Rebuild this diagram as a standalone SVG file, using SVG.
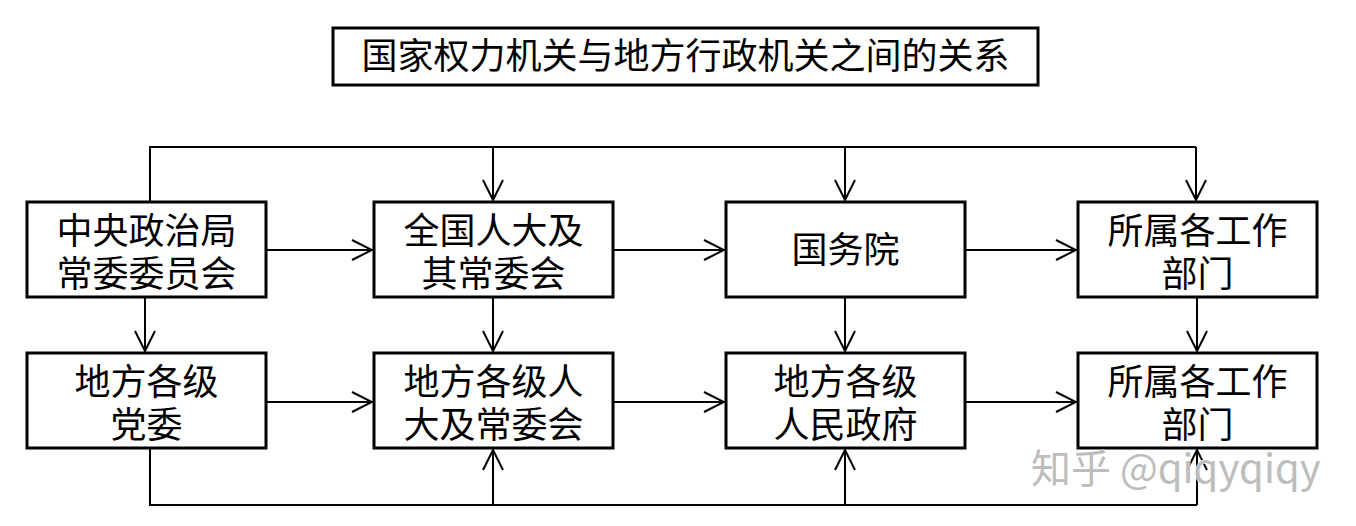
<svg xmlns="http://www.w3.org/2000/svg" width="1356" height="526" viewBox="0 0 1356 526">
<style>
.box{fill:#fff;stroke:#000;stroke-width:3}
.t{font-family:"Noto Sans CJK SC","Noto Sans",sans-serif;font-size:36px;fill:#000;text-anchor:middle}
.c{fill:none;stroke:#000;stroke-width:2}
.wm{font-family:"Noto Sans CJK SC","Noto Sans",sans-serif;font-size:40px;fill:#bdbdbd;stroke:#fff;stroke-width:0.8;paint-order:stroke}
</style>
<defs>
<marker id="a" markerUnits="userSpaceOnUse" markerWidth="24" markerHeight="24" viewBox="-22 -12 24 24" refX="0" refY="0" orient="auto">
<path d="M-20,-10 L0,0 L-20,10" fill="none" stroke="#000" stroke-width="2"/>
</marker>
</defs>
<rect width="1356" height="526" fill="#fff"/>
<g id="title">
<rect class="box" x="333" y="28" width="705" height="57"/>
<text class="t" x="685.5" y="69">国家权力机关与地方行政机关之间的关系</text>
</g>
<g id="connectors">
<polyline class="c" points="150,202 150,147 1196,147"/>
<line class="c" x1="493" y1="147" x2="493" y2="200" marker-end="url(#a)"/>
<line class="c" x1="845" y1="147" x2="845" y2="200" marker-end="url(#a)"/>
<line class="c" x1="1196" y1="147" x2="1196" y2="200" marker-end="url(#a)"/>
<line class="c" x1="266" y1="250" x2="372" y2="250" marker-end="url(#a)"/>
<line class="c" x1="613" y1="250" x2="724" y2="250" marker-end="url(#a)"/>
<line class="c" x1="965" y1="250" x2="1076" y2="250" marker-end="url(#a)"/>
<line class="c" x1="266" y1="402" x2="372" y2="402" marker-end="url(#a)"/>
<line class="c" x1="613" y1="402" x2="724" y2="402" marker-end="url(#a)"/>
<line class="c" x1="965" y1="402" x2="1076" y2="402" marker-end="url(#a)"/>
<line class="c" x1="145" y1="297" x2="145" y2="351" marker-end="url(#a)"/>
<line class="c" x1="493" y1="297" x2="493" y2="351" marker-end="url(#a)"/>
<line class="c" x1="845" y1="297" x2="845" y2="351" marker-end="url(#a)"/>
<line class="c" x1="1197" y1="297" x2="1197" y2="351" marker-end="url(#a)"/>
<polyline class="c" points="150,448 150,505 1197,505"/>
<line class="c" x1="493" y1="505" x2="493" y2="450" marker-end="url(#a)"/>
<line class="c" x1="845" y1="505" x2="845" y2="450" marker-end="url(#a)"/>
<line class="c" x1="1197" y1="505" x2="1197" y2="450" marker-end="url(#a)"/>
</g>
<g id="n1">
<rect class="box" x="27" y="202" width="239" height="95"/>
<text class="t"><tspan x="146.5" y="244">中央政治局</tspan><tspan x="146.5" y="287">常委委员会</tspan></text>
</g>
<g id="n2">
<rect class="box" x="374" y="202" width="239" height="95"/>
<text class="t"><tspan x="493.5" y="244">全国人大及</tspan><tspan x="493.5" y="287">其常委会</tspan></text>
</g>
<g id="n3">
<rect class="box" x="726" y="202" width="239" height="95"/>
<text class="t" x="845.5" y="263">国务院</text>
</g>
<g id="n4">
<rect class="box" x="1078" y="202" width="239" height="95"/>
<text class="t"><tspan x="1197.5" y="244">所属各工作</tspan><tspan x="1197.5" y="287">部门</tspan></text>
</g>
<g id="n5">
<rect class="box" x="27" y="353" width="239" height="95"/>
<text class="t"><tspan x="146.5" y="395">地方各级</tspan><tspan x="146.5" y="438">党委</tspan></text>
</g>
<g id="n6">
<rect class="box" x="374" y="353" width="239" height="95"/>
<text class="t"><tspan x="493.5" y="395">地方各级人</tspan><tspan x="493.5" y="438">大及常委会</tspan></text>
</g>
<g id="n7">
<rect class="box" x="726" y="353" width="239" height="95"/>
<text class="t"><tspan x="845.5" y="395">地方各级</tspan><tspan x="845.5" y="438">人民政府</tspan></text>
</g>
<g id="n8">
<rect class="box" x="1078" y="353" width="239" height="95"/>
<text class="t"><tspan x="1197.5" y="395">所属各工作</tspan><tspan x="1197.5" y="438">部门</tspan></text>
</g>
<text class="wm" x="1031" y="483">知乎 @qiqyqiqy</text>
</svg>
